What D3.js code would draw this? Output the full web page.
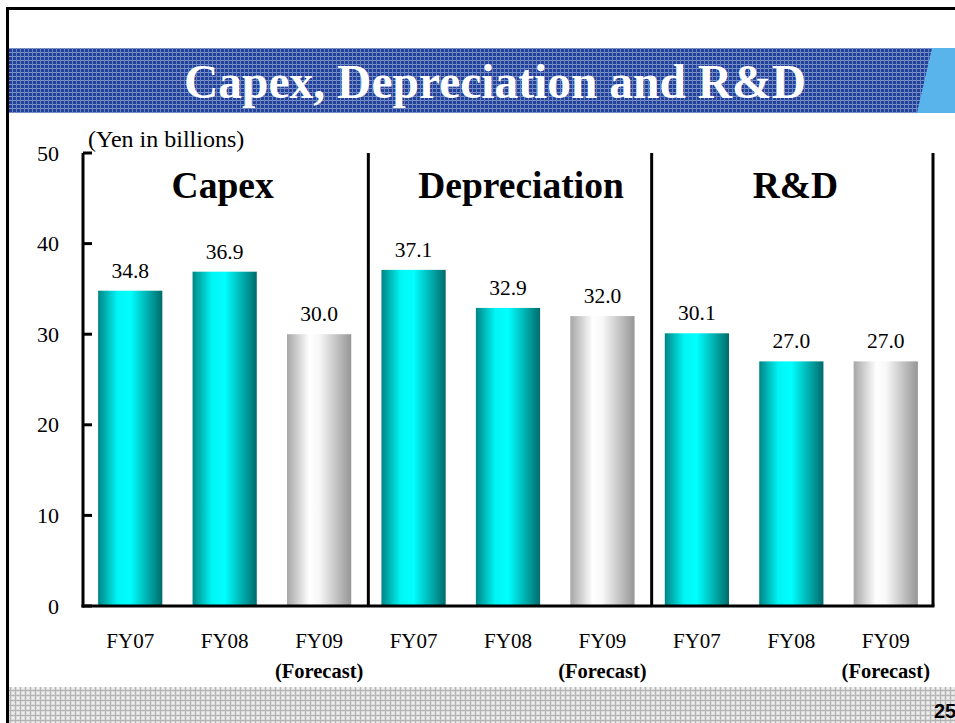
<!DOCTYPE html>
<html>
<head>
<meta charset="utf-8">
<script src="https://cdn.jsdelivr.net/npm/d3@7"></script>
<style>
  body { margin: 0; background: #fff; }
  svg { display: block; }
</style>
</head>
<body>
<div id="chart"></div>
<script>
// data
var groups = ["Capex", "Depreciation", "R&D"];
var years = ["FY07", "FY08", "FY09"];
var capexValues = [34.8, 36.9, 30.0];
var depreciationValues = [37.1, 32.9, 32.0];
var rdValues = [30.1, 27.0, 27.0];
var yTicks = [0, 10, 20, 30, 40, 50];

var W = 955, H = 723;
var margin = { top: 153, left: 83, right: 22, bottom: 117 };
var width = W - margin.left - margin.right;
var height = H - margin.top - margin.bottom;

var rows = [];
[capexValues, depreciationValues, rdValues].forEach(function (vals, gi) {
    vals.forEach(function (v, i) {
        rows.push({ key: gi + "-" + i, group: groups[gi], year: years[i], value: v, forecast: i == 2 });
    });
});

var svg = d3.select("#chart").append("svg")
    .attr("width", W)
    .attr("height", H)
    .style("font-family", "'Liberation Serif', 'Times New Roman', serif");

var defs = svg.append("defs");

// bar gradients
var teal = defs.append("linearGradient").attr("id", "teal").attr("x1", "0%").attr("x2", "100%");
teal.append("stop").attr("offset", "0%").attr("stop-color", "#008585");
teal.append("stop").attr("offset", "30%").attr("stop-color", "#00f5f5");
teal.append("stop").attr("offset", "50%").attr("stop-color", "#00ffff");
teal.append("stop").attr("offset", "100%").attr("stop-color", "#006b6b");

var grey = defs.append("linearGradient").attr("id", "grey").attr("x1", "0%").attr("x2", "100%");
grey.append("stop").attr("offset", "0%").attr("stop-color", "#a6a6a6");
grey.append("stop").attr("offset", "35%").attr("stop-color", "#ffffff");
grey.append("stop").attr("offset", "50%").attr("stop-color", "#f8f8f8");
grey.append("stop").attr("offset", "100%").attr("stop-color", "#969696");

// banner patterns
var bp = defs.append("pattern").attr("id", "bluecheck").attr("patternUnits", "userSpaceOnUse")
    .attr("width", 4).attr("height", 4);
bp.append("rect").attr("width", 4).attr("height", 4).attr("fill", "#22429a");
bp.append("rect").attr("x", 0).attr("y", 0).attr("width", 4).attr("height", 1).attr("fill", "#7d92c8");
bp.append("rect").attr("x", 0).attr("y", 0).attr("width", 1).attr("height", 4).attr("fill", "#6a82c0");

var gp = defs.append("pattern").attr("id", "greycheck").attr("patternUnits", "userSpaceOnUse")
    .attr("width", 5).attr("height", 5);
gp.append("rect").attr("width", 5).attr("height", 5).attr("fill", "#dcdcdc");
gp.append("rect").attr("x", 0).attr("y", 0).attr("width", 5).attr("height", 1).attr("fill", "#b4b4b4");
gp.append("rect").attr("x", 0).attr("y", 0).attr("width", 1).attr("height", 5).attr("fill", "#b4b4b4");
gp.append("rect").attr("x", 2).attr("y", 2).attr("width", 2).attr("height", 2).attr("fill", "#f0f0f0");

// page frame
svg.append("line").attr("x1", 7).attr("x2", W).attr("y1", 8.5).attr("y2", 8.5)
    .attr("stroke", "#000").attr("stroke-width", 3);
svg.append("line").attr("x1", 7.5).attr("x2", 7.5).attr("y1", 7).attr("y2", H)
    .attr("stroke", "#000").attr("stroke-width", 3);

// title banner
svg.append("rect").attr("x", 9).attr("y", 48).attr("width", W - 9).attr("height", 65)
    .attr("fill", "url(#bluecheck)");
svg.append("path").attr("d", "M932,48 L955,48 L955,113 L917,113 Z").attr("fill", "#5ab4ec");
svg.append("text").attr("x", 495).attr("y", 98).attr("text-anchor", "middle")
    .attr("fill", "#fff").attr("font-weight", "bold").attr("font-size", 47.5)
    .text("Capex, Depreciation and R&D");

// footer band
svg.append("rect").attr("x", 9).attr("y", 687).attr("width", W - 9).attr("height", H - 687)
    .attr("fill", "url(#greycheck)");
svg.append("text").attr("x", 934).attr("y", 718)
    .attr("font-family", "'Liberation Sans', Arial, sans-serif").attr("font-weight", "bold")
    .attr("font-size", 20).text("25");

var g = svg.append("g").attr("transform", "translate(" + margin.left + "," + margin.top + ")");

var x = d3.scaleBand().domain(rows.map(function (d) { return d.key; }))
    .range([0, width]).paddingInner(0.32).paddingOuter(0.16);
var y = d3.scaleLinear().domain([0, 50]).range([height, 0]);
var step = x.step();

// y axis
var yAxis = g.append("g").call(d3.axisLeft(y).tickValues(yTicks).tickSize(0).tickPadding(24));
yAxis.select(".domain").remove();
yAxis.selectAll("text").attr("font-size", 22).attr("font-family", "'Liberation Serif', serif").attr("fill", "#000");
g.selectAll(".ytick").data(yTicks).enter().append("line")
    .attr("class", "ytick")
    .attr("x1", 0).attr("x2", 9)
    .attr("y1", function (d) { return y(d); }).attr("y2", function (d) { return y(d); })
    .attr("stroke", "#000").attr("stroke-width", 3);

// bars
g.selectAll(".bar").data(rows).enter().append("rect")
    .attr("class", "bar")
    .attr("x", function (d) { return x(d.key); })
    .attr("y", function (d) { return y(d.value); })
    .attr("width", x.bandwidth())
    .attr("height", function (d) { return height - y(d.value); })
    .attr("fill", function (d) { return d.forecast ? "url(#grey)" : "url(#teal)"; });

// value labels
g.selectAll(".val").data(rows).enter().append("text")
    .attr("class", "val")
    .attr("x", function (d) { return x(d.key) + x.bandwidth() / 2; })
    .attr("y", function (d) { return y(d.value) - 13; })
    .attr("text-anchor", "middle").attr("font-size", 21.5)
    .text(function (d) { return d.value.toFixed(1); });

// category labels
g.selectAll(".cat").data(rows).enter().append("text")
    .attr("class", "cat")
    .attr("x", function (d) { return x(d.key) + x.bandwidth() / 2; })
    .attr("y", height + 42)
    .attr("text-anchor", "middle").attr("font-size", 21)
    .text(function (d) { return d.year; });
g.selectAll(".fc").data(rows.filter(function (d) { return d.forecast; })).enter().append("text")
    .attr("class", "fc")
    .attr("x", function (d) { return x(d.key) + x.bandwidth() / 2; })
    .attr("y", height + 72)
    .attr("text-anchor", "middle").attr("font-size", 20.5).attr("font-weight", "bold")
    .text("(Forecast)");

// axis frame and dividers
g.append("line").attr("x1", 0).attr("x2", 0).attr("y1", 0).attr("y2", height + 1.5)
    .attr("stroke", "#000").attr("stroke-width", 3);
g.append("line").attr("x1", -1.5).attr("x2", width + 1.5).attr("y1", height).attr("y2", height)
    .attr("stroke", "#000").attr("stroke-width", 3);
[1, 2, 3].forEach(function (k) {
    var xx = step * 3 * k + 2;
    if (k == 3) xx = width;
    g.append("line").attr("x1", xx).attr("x2", xx).attr("y1", 0).attr("y2", height)
        .attr("stroke", "#000").attr("stroke-width", 3);
});

// group titles
var titleShift = [-2, 13, 4];
groups.forEach(function (name, gi) {
    g.append("text")
        .attr("x", step * 3 * gi + step * 1.5 + titleShift[gi])
        .attr("y", 45)
        .attr("text-anchor", "middle").attr("font-size", 37.5).attr("font-weight", "bold")
        .text(name);
});

g.append("text").attr("x", 5).attr("y", -6).attr("font-size", 24).text("(Yen in billions)");
</script>
</body>
</html>
